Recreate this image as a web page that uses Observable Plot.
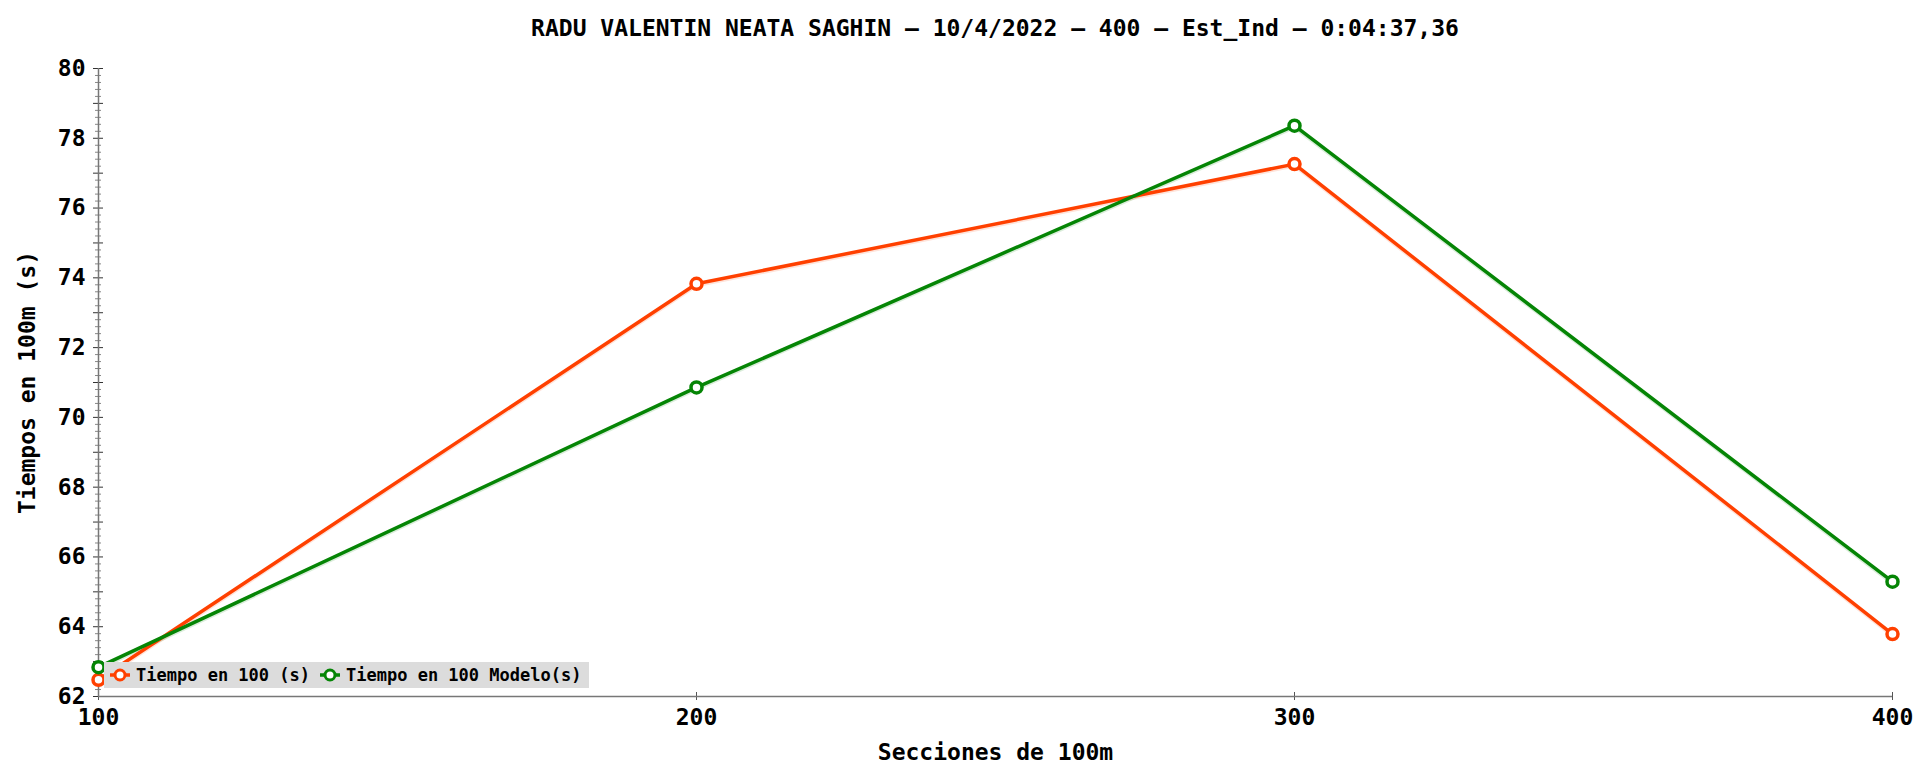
<!DOCTYPE html>
<html>
<head>
<meta charset="utf-8">
<script src="https://cdn.jsdelivr.net/npm/d3@7"></script>
<script src="https://cdn.jsdelivr.net/npm/@observablehq/plot@0.6"></script>
<style>
  body { margin: 0; background: white; font-family: "DejaVu Sans Mono", monospace; }
  #wrap { position: relative; width: 1915px; height: 765px; }
  #title { height: 50px; line-height: 56px; font-size: 23px; font-weight: bold; text-align: center;
           padding-left: 98px; padding-right: 23px; box-sizing: border-box; width: 1915px; color: #000; }
  #legend { position: absolute; left: 104px; top: 662px; width: 485px; height: 26px; background: #dcdcdc; }
  #legend .item { position: absolute; top: 0; height: 26px; display: flex; align-items: center;
                  font-size: 17px; font-weight: bold; color: #000; }
  #legend svg { margin-right: 6px; }
</style>
</head>
<body>
<div id="wrap">
  <div id="title"></div>
  <div id="chart"></div>
  <div id="legend"></div>
</div>
<script>
const title = "RADU VALENTIN NEATA SAGHIN – 10/4/2022 – 400 – Est_Ind – 0:04:37,36";
const secciones = [100, 200, 300, 400];
const tiempo = [62.48, 73.83, 77.26, 63.79];
const modelo = [62.84, 70.86, 78.36, 65.29];
const seriesNames = ["Tiempo en 100 (s)", "Tiempo en 100 Modelo(s)"];
const seriesColors = ["#ff4000", "#058505"];
const yMajor = [62, 64, 66, 68, 70, 72, 74, 76, 78, 80];
const xLabel = "Secciones de 100m";
const yLabel = "Tiempos en 100m (s)";

document.getElementById("title").textContent = title;

const rows = [];
secciones.forEach((s, i) => {
  rows.push({x: s, y: tiempo[i], serie: seriesNames[0]});
  rows.push({x: s, y: modelo[i], serie: seriesNames[1]});
});

const yMinor = d3.range(0, 91).map(i => 62 + i * 0.2).filter(v => Math.abs(v - Math.round(v)) > 1e-6);
const yInt = d3.range(62, 81);
const axisColor = "#777";

const chart = Plot.plot({
  width: 1915,
  height: 715,
  marginLeft: 98,
  marginRight: 23,
  marginTop: 18,
  marginBottom: 69,
  style: {fontFamily: "DejaVu Sans Mono", fontWeight: "bold", fontSize: "23px", background: "white", color: "#000"},
  x: {domain: [100, 400], label: null},
  y: {domain: [62, 80], label: null},
  color: {domain: seriesNames, range: seriesColors},
  marks: [
    Plot.axisY({ticks: yMinor, tickSize: 6, dx: 3, text: null, stroke: "#888", strokeWidth: 1}),
    Plot.axisY({ticks: yInt, tickSize: 10, dx: 5, text: null, stroke: "#333", strokeWidth: 1}),
    Plot.axisY({ticks: yMajor, tickSize: 0, tickPadding: 13, tickFormat: d => String(d), fontSize: 23, fill: "#000"}),
    Plot.axisX({ticks: secciones, tickSize: 8, dy: -4, text: null, stroke: "#555", strokeWidth: 1}),
    Plot.axisX({ticks: secciones, tickSize: 0, tickPadding: 12, tickFormat: d => String(d), fontSize: 23, fill: "#000"}),
    Plot.ruleX([100], {y1: 62, y2: 80, stroke: axisColor, strokeWidth: 1.5}),
    Plot.ruleY([62], {x1: 100, x2: 400, stroke: axisColor, strokeWidth: 1.5}),
    Plot.text([yLabel], {frameAnchor: "left", textAnchor: "middle", lineAnchor: "middle", dx: -71, rotate: -90, fontSize: 23, fill: "#000"}),
    Plot.text([xLabel], {frameAnchor: "bottom", textAnchor: "middle", lineAnchor: "middle", dy: 56, fontSize: 23, fill: "#000"}),
    Plot.line(rows, {x: "x", y: "y", z: "serie", stroke: "serie", strokeWidth: 3, dy: 2, strokeOpacity: 0.15}),
    Plot.line(rows, {x: "x", y: "y", z: "serie", stroke: "serie", strokeWidth: 3.5}),
    Plot.dot(rows, {x: "x", y: "y", stroke: "serie", fill: "white", r: 5.5, strokeWidth: 3.5})
  ]
});
document.getElementById("chart").appendChild(chart);

const legend = document.getElementById("legend");
const positions = [6, 216];
seriesNames.forEach((name, i) => {
  const item = document.createElement("div");
  item.className = "item";
  item.style.left = positions[i] + "px";
  item.innerHTML = `<svg width="20" height="20"><line x1="0" y1="10" x2="20" y2="10" stroke="${seriesColors[i]}" stroke-width="3.5"/><circle cx="10" cy="10" r="5" fill="white" stroke="${seriesColors[i]}" stroke-width="3"/></svg><span>${name}</span>`;
  legend.appendChild(item);
});
</script>
</body>
</html>
